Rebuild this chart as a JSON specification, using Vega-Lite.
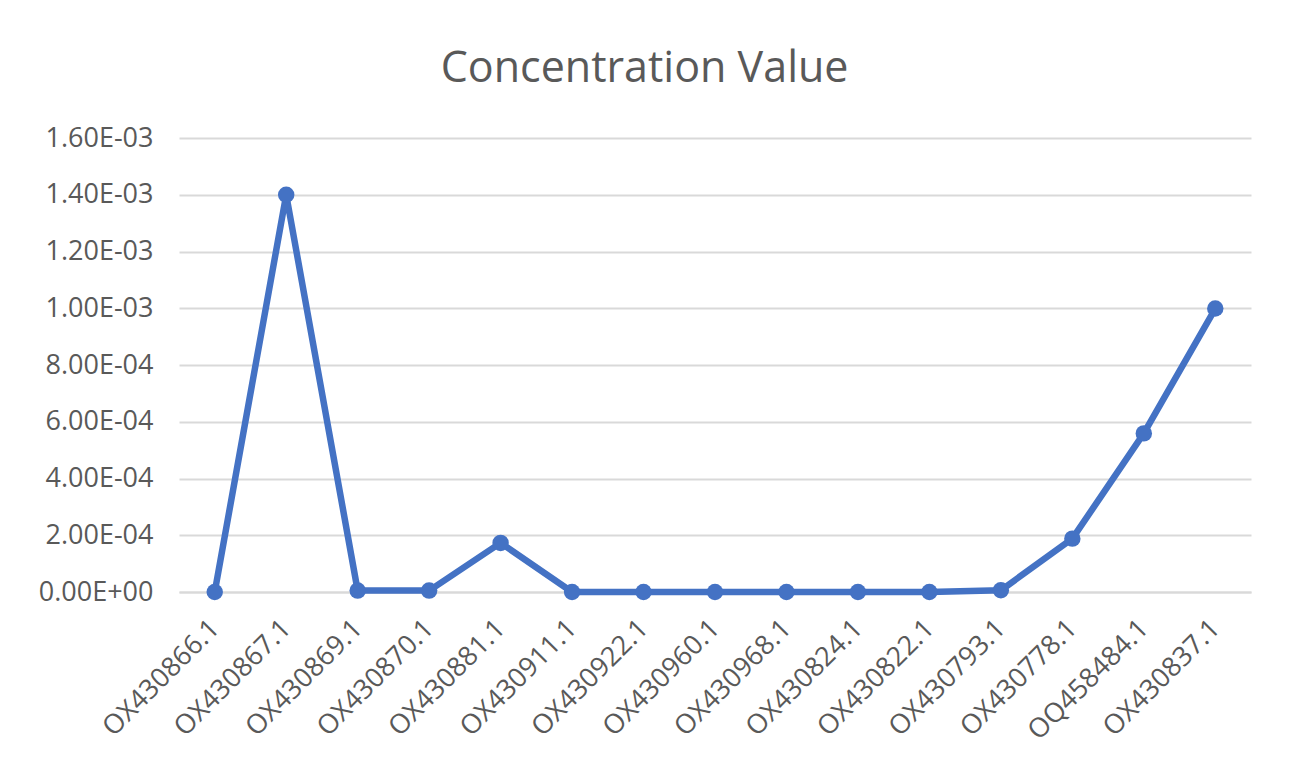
{
  "$schema": "https://vega.github.io/schema/vega-lite/v6.json",
  "autosize": {"type": "fit", "contains": "padding"},
  "width": 1297,
  "height": 775,
  "padding": {"left": 38, "top": 48, "right": 46, "bottom": 30},
  "background": "white",
  "title": {
    "text": "Concentration Value",
    "anchor": "middle",
    "frame": "bounds",
    "font": "Open Sans",
    "fontSize": 43,
    "fontWeight": "normal",
    "color": "#595959",
    "offset": 33
  },
  "data": {
    "values": [
      {"id": "OX430866.1", "value": 0},
      {"id": "OX430867.1", "value": 0.0014},
      {"id": "OX430869.1", "value": 0.000005},
      {"id": "OX430870.1", "value": 0.000005},
      {"id": "OX430881.1", "value": 0.000173},
      {"id": "OX430911.1", "value": 0},
      {"id": "OX430922.1", "value": 0},
      {"id": "OX430960.1", "value": 0},
      {"id": "OX430968.1", "value": 0},
      {"id": "OX430824.1", "value": 0},
      {"id": "OX430822.1", "value": 0},
      {"id": "OX430793.1", "value": 0.000006},
      {"id": "OX430778.1", "value": 0.000188},
      {"id": "OQ458484.1", "value": 0.000559},
      {"id": "OX430837.1", "value": 0.000999}
    ]
  },
  "encoding": {
    "x": {
      "field": "id",
      "type": "nominal",
      "sort": null,
      "scale": {"type": "point", "padding": 0.5},
      "axis": {
        "title": null,
        "labelAngle": -45,
        "labelAlign": "right",
        "labelBaseline": "middle",
        "labelFont": "Open Sans",
        "labelFontSize": 27,
        "labelColor": "#595959",
        "labelPadding": 32,
        "labelDx": 6,
        "labelOverlap": false,
        "ticks": false,
        "domain": true,
        "domainColor": "#D9D9D9",
        "domainWidth": 2,
        "grid": false
      }
    },
    "y": {
      "field": "value",
      "type": "quantitative",
      "scale": {"domain": [0, 0.0016], "nice": false},
      "axis": {
        "title": null,
        "values": [0, 0.0002, 0.0004, 0.0006, 0.0008, 0.001, 0.0012, 0.0014, 0.0016],
        "labelExpr": "replace(replace(format(datum.value, '.2e'), 'e-', 'E-0'), 'e+', 'E+0')",
        "labelFont": "Open Sans",
        "labelFontSize": 27,
        "labelColor": "#595959",
        "labelPadding": 26,
        "ticks": false,
        "domain": false,
        "grid": true,
        "gridColor": "#D9D9D9",
        "gridWidth": 2
      }
    }
  },
  "layer": [
    {
      "mark": {"type": "line", "color": "#4472C4", "strokeWidth": 6.5, "strokeJoin": "round", "strokeCap": "round"}
    },
    {
      "mark": {"type": "point", "filled": true, "color": "#4472C4", "size": 270, "opacity": 1}
    }
  ],
  "config": {"view": {"stroke": null}}
}
